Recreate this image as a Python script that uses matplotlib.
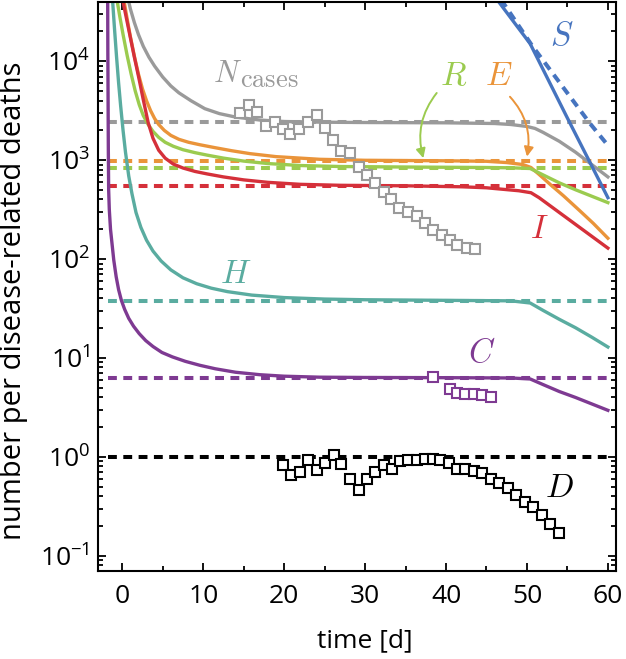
import numpy as np
import matplotlib
matplotlib.use('Agg')
import matplotlib.pyplot as plt
from matplotlib.ticker import FixedLocator, FuncFormatter, MultipleLocator, NullFormatter

plt.rcParams['font.family'] = ['Open Sans', 'DejaVu Sans']
plt.rcParams['mathtext.fontset'] = 'cm'

# colours
c_N = '#9a9a9a'
c_E = '#ea943a'
c_R = '#9bcb4f'
c_I = '#d5303a'
c_H = '#5aaca0'
c_C = '#7e3a92'
c_S = '#4674bf'
c_D = 'black'

# model curves: time [d] and log10 of number per disease-related death
t_N = [0.6, 0.75, 1.0, 1.5, 2.0, 2.6, 3.3, 4.0, 5.0, 6.0, 7.0, 8.5, 10.2, 12, 14, 17, 20, 25, 30, 40, 46, 48,
       50, 51, 52, 54, 56, 58, 60]
N_log = [4.68, 4.62, 4.53, 4.39, 4.27, 4.15, 4.04, 3.95, 3.84, 3.75, 3.68, 3.60, 3.52, 3.47, 3.435, 3.405, 3.39,
         3.383, 3.38, 3.377, 3.37, 3.36, 3.34, 3.32, 3.28, 3.19, 3.08, 2.955, 2.83]

t_E = [0.2, 0.6, 1.0, 1.5, 2.0, 2.5, 3.0, 3.5, 4.0, 4.5, 5.2, 6.0, 7.0, 8.2, 9.6, 11.5, 13.5, 15.8, 19, 24.4,
       30, 40, 45, 47.5, 49.5, 50.5, 51.5, 53, 54.5, 56.5, 58.2, 60]
E_log = [4.62, 4.43, 4.25, 4.05, 3.87, 3.72, 3.60, 3.50, 3.42, 3.36, 3.30, 3.25, 3.21, 3.18, 3.155, 3.125, 3.095,
         3.065, 3.035, 3.008, 2.998, 2.993, 2.988, 2.975, 2.955, 2.925, 2.855, 2.745, 2.64, 2.49, 2.36, 2.21]

t_R = [-0.65, -0.3, 0.1, 0.6, 1.1, 1.6, 2.1, 2.6, 3.2, 3.8, 4.5, 5.3, 6.3, 7.5, 9.0, 10.5, 12.5, 15, 18, 22,
       27, 35, 45, 48, 50.4, 52, 54, 56, 58, 60]
R_log = [4.62, 4.45, 4.27, 4.06, 3.87, 3.70, 3.56, 3.45, 3.36, 3.29, 3.23, 3.18, 3.14, 3.105, 3.075, 3.05, 3.02,
         2.99, 2.965, 2.945, 2.935, 2.93, 2.925, 2.922, 2.915, 2.85, 2.77, 2.70, 2.635, 2.57]

t_I = [0.05, 0.5, 1.0, 1.5, 2.0, 2.6, 3.2, 3.8, 4.5, 5.3, 6.3, 7.5, 9.0, 10.5, 12.5, 15, 18, 22, 27, 35, 42,
       45, 47, 49, 50.5, 51.5, 53, 55, 57.5, 60]
I_log = [4.62, 4.44, 4.24, 4.04, 3.85, 3.61, 3.38, 3.22, 3.10, 3.02, 2.96, 2.92, 2.885, 2.86, 2.83, 2.80, 2.775,
         2.755, 2.745, 2.74, 2.73, 2.72, 2.705, 2.69, 2.67, 2.62, 2.53, 2.41, 2.26, 2.11]

t_H = [-1.2, -0.95, -0.7, -0.45, -0.2, 0.1, 0.4, 0.8, 1.2, 1.7, 2.3, 3.0, 3.8, 4.8, 6.0, 7.5, 9.2, 11, 13, 16,
       20, 25, 30, 40, 48, 50.4, 52, 54, 56, 58, 60]
H_log = [4.62, 4.32, 4.04, 3.78, 3.55, 3.30, 3.08, 2.84, 2.66, 2.47, 2.32, 2.19, 2.08, 1.98, 1.89, 1.81, 1.75,
         1.705, 1.67, 1.635, 1.61, 1.595, 1.588, 1.582, 1.577, 1.555, 1.48, 1.39, 1.305, 1.21, 1.11]

t_C = [-1.8, -1.78, -1.75, -1.72, -1.68, -1.6, -1.45, -1.27, -1.05, -0.75, -0.45, -0.1, 0.3, 0.8, 1.4, 2.1, 2.9,
       3.8, 4.9, 6.2, 7.8, 9.6, 11.5, 14, 17, 20, 24.4, 30, 40, 48, 50.4, 52, 54, 56, 58, 60]
C_log = [4.62, 4.1, 3.6, 3.1, 2.7, 2.5, 2.3, 2.16, 1.99, 1.82, 1.69, 1.58, 1.49, 1.40, 1.32, 1.245, 1.175,
         1.115, 1.055, 1.01, 0.965, 0.925, 0.89, 0.855, 0.83, 0.815, 0.805, 0.802, 0.80, 0.797, 0.787, 0.73,
         0.66, 0.60, 0.535, 0.47]

t_S = [46.3, 50.4, 54.9, 60]
S_mod = [42000, 15000, 2760, 417]
t_S_dash = [46.8, 50.6, 57.8, 60]
S_dash = [42000, 14500, 2340, 1410]

# steady-state levels (dashed lines)
lvl_t = [-1.8, 60]
lvl_vals = [2400, 980, 841, 550, 37.7, 6.3, 1.0]
lvl_cols = [c_N, c_E, c_R, c_I, c_H, c_C, c_D]

# data points
t_cases = [14.6, 15.7, 16.7, 17.8, 18.9, 19.8, 20.7, 21.8, 22.9, 24.0, 25.1, 26.0, 27.0, 28.1, 29.3,
           30.2, 31.2, 32.3, 33.2, 34.2, 35.3, 36.4, 37.4, 38.4, 39.5, 40.5, 41.4, 42.6, 43.6]
cases = [3020, 3630, 3090, 2190, 2455, 2040, 1820, 2040, 2400, 2880, 2090, 1585, 1230, 1175, 861,
         708, 589, 479, 407, 331, 302, 269, 229, 195, 174, 155, 138, 129, 126]

t_icu = [38.4, 40.5, 41.3, 42.3, 43.4, 44.4, 45.6]
icu = [6.35, 4.9, 4.45, 4.3, 4.3, 4.2, 4.05]

t_deaths = [19.9, 20.9, 22.0, 23.0, 24.0, 25.1, 26.1, 27.0, 28.1, 29.2, 30.2, 31.2, 32.3, 33.3, 34.3, 35.3, 36.4,
            37.4, 38.4, 39.3, 40.4, 41.4, 42.4, 43.4, 44.5, 45.5, 46.5, 47.6, 48.7, 49.8, 50.8, 51.8, 52.9, 54.0]
deaths = [0.82, 0.65, 0.71, 0.93, 0.73, 0.87, 1.04, 0.84, 0.60, 0.46, 0.59, 0.71, 0.82, 0.745, 0.90, 0.93, 0.93,
          0.95, 0.94, 0.93, 0.86, 0.76, 0.75, 0.72, 0.68, 0.60, 0.545, 0.48, 0.41, 0.35, 0.31, 0.26, 0.21, 0.168]

fig = plt.figure(figsize=(6.26, 6.59), dpi=100)
ax = fig.add_axes([0.1565, 0.1335, 0.8275, 0.864])

dash = (0, (2.2, 1.6))
for v, c in zip(lvl_vals, lvl_cols):
    ax.plot(lvl_t, [v, v], color=c, lw=2.9, ls=dash, zorder=1)
ax.plot(t_S_dash, S_dash, color=c_S, lw=2.9, ls=dash, zorder=1)

for t, lg, c in [(t_N, N_log, c_N), (t_E, E_log, c_E), (t_R, R_log, c_R), (t_I, I_log, c_I),
                 (t_H, H_log, c_H), (t_C, C_log, c_C)]:
    ax.plot(t, 10.0 ** np.array(lg), color=c, lw=2.4, solid_joinstyle='round', zorder=2)
ax.plot(t_S, S_mod, color=c_S, lw=2.4, zorder=2)

mk = dict(marker='s', ls='none', ms=7.5, mew=1.5, mfc='white', zorder=3)
ax.plot(t_cases, cases, mec=c_N, **mk)
ax.plot(t_icu, icu, mec=c_C, **mk)
ax.plot(t_deaths, deaths, mec=c_D, **mk)

# labels
big = 24
ax.text(11.2, 6200, r'$N$', color=c_N, fontsize=22)
ax.text(14.6, 5500, r'$\mathrm{cases}$', color=c_N, fontsize=19)
ax.text(39.3, 5760, r'$R$', color=c_R, fontsize=big)
ax.text(44.8, 5760, r'$E$', color=c_E, fontsize=big)
ax.text(52.8, 14700, r'$S$', color=c_S, fontsize=big)
ax.text(50.4, 163, r'$I$', color=c_I, fontsize=big)
ax.text(12.1, 57, r'$H$', color=c_H, fontsize=big)
ax.text(42.7, 9.1, r'$C$', color=c_C, fontsize=big)
ax.text(52.2, 0.39, r'$D$', color=c_D, fontsize=big)

ax.annotate('', xy=(37.2, 1045), xytext=(38.85, 4770),
            arrowprops=dict(arrowstyle='-|>', color=c_R, lw=1.4, mutation_scale=14,
                            shrinkA=0, shrinkB=0, connectionstyle='arc3,rad=0.25'))
ax.annotate('', xy=(50.0, 1085), xytext=(47.9, 4370),
            arrowprops=dict(arrowstyle='-|>', color=c_E, lw=1.4, mutation_scale=14,
                            shrinkA=0, shrinkB=0, connectionstyle='arc3,rad=-0.25'))

ax.set_yscale('log')
ax.set_xlim(-3, 61)
ax.set_ylim(0.07, 4e4)

ax.xaxis.set_major_locator(MultipleLocator(10))
ax.xaxis.set_minor_locator(MultipleLocator(5))
ax.yaxis.set_major_locator(FixedLocator([0.1, 1, 10, 100, 1000, 10000]))
ax.yaxis.set_minor_locator(FixedLocator([m * 10.0 ** e for e in range(-2, 5) for m in range(2, 10)]))
ax.yaxis.set_major_formatter(FuncFormatter(lambda v, p: r'$\mathregular{10^{%d}}$' % round(np.log10(v))))
ax.yaxis.set_minor_formatter(NullFormatter())

ax.tick_params(which='both', direction='in', top=True, right=True, width=1.3, labelsize=19)
ax.tick_params(which='major', length=6)
ax.tick_params(which='minor', length=3.5)
ax.tick_params(axis='x', pad=9)
ax.tick_params(axis='y', pad=6)
for s in ax.spines.values():
    s.set_linewidth(1.5)

ax.set_xlabel('time [d]', fontsize=19)
ax.set_ylabel('number per disease-related deaths', fontsize=21)
ax.xaxis.set_label_coords(0.515, -0.1)
ax.yaxis.set_label_coords(-0.135, 0.475)

fig.savefig('out.png', dpi=100)
